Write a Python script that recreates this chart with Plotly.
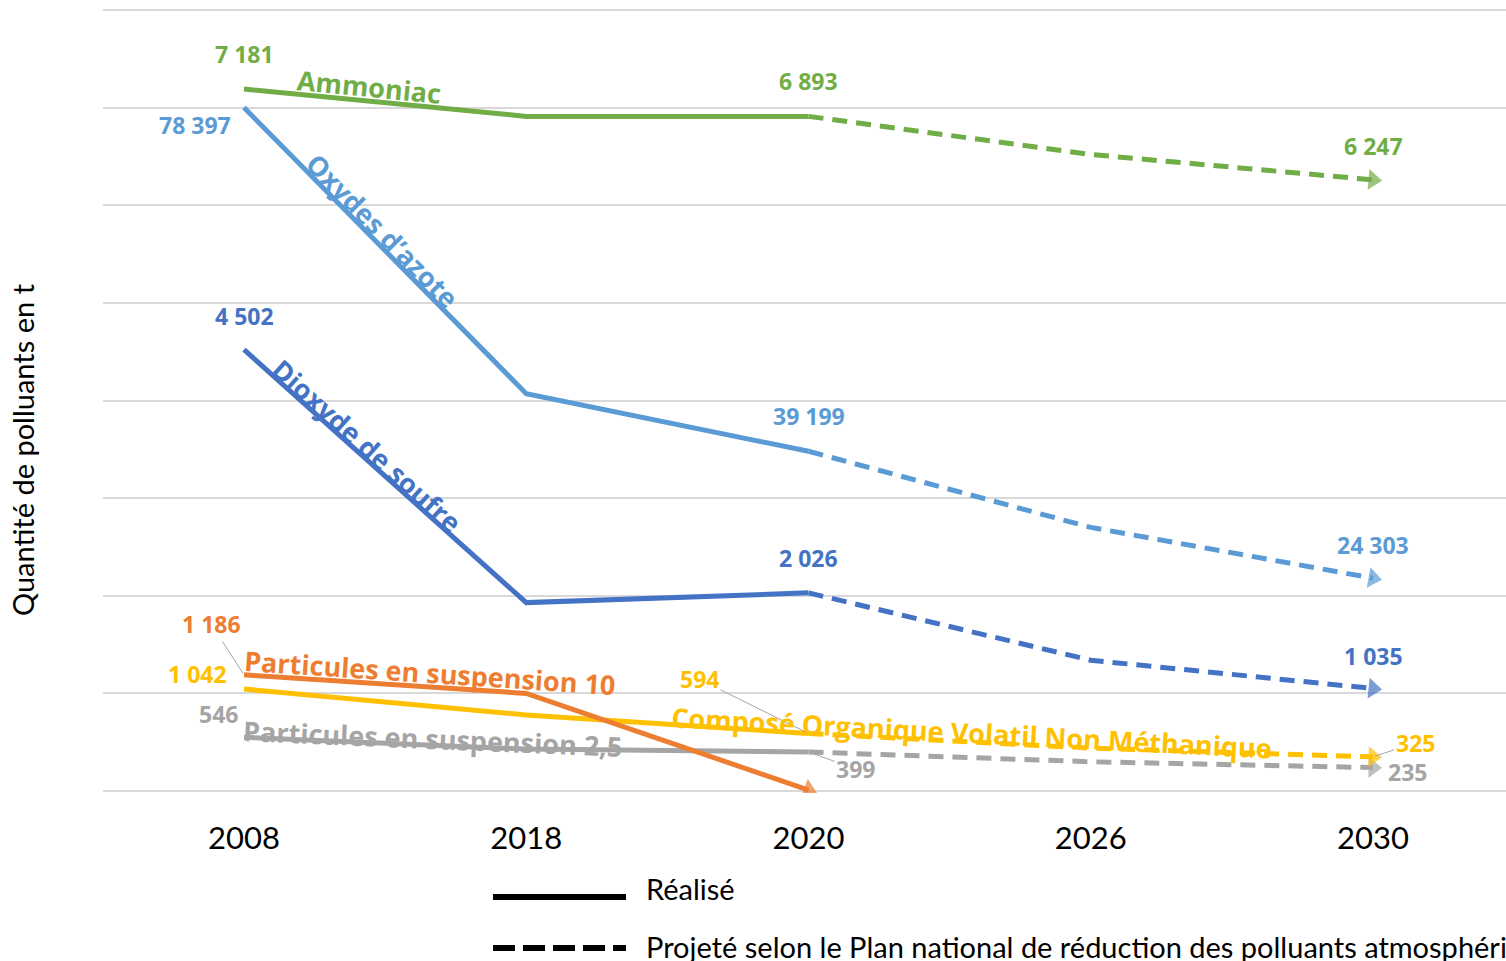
import math
import plotly.graph_objects as go

# ---------------- data ----------------
years = ["2008", "2018", "2020", "2026", "2030"]

# plotted positions (chart units; each pollutant is drawn on its own schematic scale)
ammoniac = [7.19, 6.91, 6.91, 6.52, 6.26]
oxydes_azote = [7.00, 4.07, 3.48, 2.70, 2.18]
dioxyde_soufre = [4.52, 1.93, 2.03, 1.34, 1.05]
particules_10 = [1.19, 1.00, 0.01]
covnm = [1.045, 0.78, 0.59, 0.44, 0.35]
particules_25 = [0.55, 0.43, 0.40, 0.30, 0.24]

# displayed values (t) at 2008, 2020, 2030
ammoniac_values = ["7 181", "6 893", "6 247"]
oxydes_azote_values = ["78 397", "39 199", "24 303"]
dioxyde_soufre_values = ["4 502", "2 026", "1 035"]
particules_10_values = ["1 186"]
covnm_values = ["1 042", "594", "325"]
particules_25_values = ["546", "399", "235"]

series_names = ["Ammoniac", "Oxydes d’azote", "Dioxyde de soufre", "Particules en suspension 10",
                "Composé Organique Volatil Non Méthanique", "Particules en suspension 2,5"]
legend_labels = ["Réalisé", "Projeté selon le Plan national de réduction des polluants atmosphériques"]
y_title = "Quantité de polluants en t"

# ---------------- style ----------------
GREEN, LBLUE, BLUE = "#70AD47", "#5B9BD5", "#4472C4"
ORANGE, YELLOW, GRAY = "#ED7D31", "#FFC000", "#A5A5A5"
FONT = "Lato"
BFONT = "Open Sans"
W, H = 1506, 961
ML, MR, MT, MB = 103, 0, 8, 168
XR = [-0.4996, 4.471]
YR = [-0.02, 8.02]
SX = (W - ML - MR) / (XR[1] - XR[0])
SY = (H - MT - MB) / (YR[1] - YR[0])
LW = 5
DASH = "15px,9px"
ARROW = 18

fig = go.Figure()


def add_series(vals, color, projected=True):
    xs = list(range(len(vals)))
    n_real = 3
    solid_x, solid_y = xs[:n_real], vals[:n_real]
    if projected:
        fig.add_trace(go.Scatter(x=solid_x, y=solid_y, mode="lines",
                                 line=dict(color=color, width=LW), hoverinfo="skip"))
        fig.add_trace(go.Scatter(x=xs[n_real - 1:], y=vals[n_real - 1:], mode="lines+markers",
                                 line=dict(color=color, width=LW, dash=DASH),
                                 marker=dict(symbol="triangle-up", angleref="previous",
                                             size=[0] * (len(vals) - n_real) + [ARROW],
                                             color=color, line=dict(width=0)),
                                 hoverinfo="skip"))
    else:
        fig.add_trace(go.Scatter(x=solid_x, y=solid_y, mode="lines+markers",
                                 line=dict(color=color, width=LW),
                                 marker=dict(symbol="triangle-up", angleref="previous",
                                             size=[0] * (n_real - 1) + [ARROW],
                                             color=color, line=dict(width=0)),
                                 hoverinfo="skip"))


add_series(ammoniac, GREEN)
add_series(oxydes_azote, LBLUE)
add_series(dioxyde_soufre, BLUE)
add_series(particules_25, GRAY)
add_series(covnm, YELLOW)
add_series(particules_10, ORANGE, projected=False)

annotations = []


def value_label(vals, idx, text, color, xs=0, ys=0, leader=None):
    a = dict(x=idx, y=vals[idx], text="<b>%s</b>" % text, xref="x", yref="y",
             font=dict(family=BFONT, size=23, color=color),
             xanchor="center", yanchor="middle")
    if leader:
        a.update(showarrow=True, ax=leader[0], ay=leader[1], arrowhead=0,
                 arrowwidth=1, arrowcolor="#A6A6A6", standoff=2)
    else:
        a.update(showarrow=False, xshift=xs, yshift=ys)
    annotations.append(a)


value_label(ammoniac, 0, ammoniac_values[0], GREEN, ys=35)
value_label(ammoniac, 2, ammoniac_values[1], GREEN, ys=35)
value_label(ammoniac, 4, ammoniac_values[2], GREEN, ys=34)
value_label(oxydes_azote, 0, oxydes_azote_values[0], LBLUE, xs=-49, ys=-17)
value_label(oxydes_azote, 2, oxydes_azote_values[1], LBLUE, ys=35)
value_label(oxydes_azote, 4, oxydes_azote_values[2], LBLUE, ys=33)
value_label(dioxyde_soufre, 0, dioxyde_soufre_values[0], BLUE, ys=34)
value_label(dioxyde_soufre, 2, dioxyde_soufre_values[1], BLUE, ys=35)
value_label(dioxyde_soufre, 4, dioxyde_soufre_values[2], BLUE, ys=33)
value_label(particules_10, 0, particules_10_values[0], ORANGE, leader=(-33, -51))
value_label(covnm, 0, covnm_values[0], YELLOW, xs=-47, ys=15)
value_label(covnm, 2, covnm_values[1], YELLOW, leader=(-109, -54))
value_label(covnm, 4, covnm_values[2], YELLOW, leader=(42, -14))
value_label(particules_25, 0, particules_25_values[0], GRAY, xs=-26, ys=23)
value_label(particules_25, 2, particules_25_values[1], GRAY, leader=(47, 17))
value_label(particules_25, 4, particules_25_values[2], GRAY, xs=34, ys=-4)


def name_label(vals, seg, t, d, text, color, size=27):
    x0, x1 = seg, seg + 1
    y0, y1 = vals[seg], vals[seg + 1]
    dxp = SX * (x1 - x0)
    dyp = SY * (y1 - y0)
    ang = math.degrees(math.atan2(-dyp, dxp))
    L = math.hypot(dxp, dyp)
    nx, ny = -dyp / L, dxp / L
    annotations.append(dict(x=x0 + t * (x1 - x0), y=y0 + t * (y1 - y0), xref="x", yref="y",
                            text="<b>%s</b>" % text, showarrow=False, textangle=ang,
                            xshift=d * nx, yshift=d * ny, xanchor="center", yanchor="middle",
                            font=dict(family=BFONT, size=size, color=color)))


name_label(ammoniac, 0, 0.44, 15, series_names[0], GREEN)
name_label(oxydes_azote, 0, 0.46, 12, series_names[1], LBLUE)
name_label(dioxyde_soufre, 0, 0.41, 11, series_names[2], BLUE)
name_label(particules_10, 0, 0.655, 15, series_names[3], ORANGE)
name_label(covnm, 2, 0.576, 9, series_names[4], YELLOW)
name_label(particules_25, 0, 0.67, 7, series_names[5], GRAY)

# y axis title
annotations.append(dict(x=-0.0577, y=(793 - 450) / 785, xref="paper", yref="paper",
                        text=y_title, textangle=-90, showarrow=False,
                        xanchor="center", yanchor="middle",
                        font=dict(family=FONT, size=29, color="#000000")))


# legend (drawn as shapes + text)
def px_x(p):
    return (p - ML) / (W - ML - MR)


def px_y(p):
    return (H - MB - p) / (H - MT - MB)


shapes = [
    dict(type="line", xref="paper", yref="paper", x0=px_x(493), x1=px_x(626),
         y0=px_y(897), y1=px_y(897), line=dict(color="#000000", width=6)),
    dict(type="line", xref="paper", yref="paper", x0=px_x(493), x1=px_x(626),
         y0=px_y(948), y1=px_y(948), line=dict(color="#000000", width=6, dash="22px,8px")),
]
annotations.append(dict(x=px_x(644), y=px_y(888), xref="paper", yref="paper", text=legend_labels[0],
                        showarrow=False, xanchor="left", yanchor="middle",
                        font=dict(family=FONT, size=29, color="#000000")))
annotations.append(dict(x=px_x(644), y=px_y(946), xref="paper", yref="paper", text=legend_labels[1],
                        showarrow=False, xanchor="left", yanchor="middle",
                        font=dict(family=FONT, size=29, color="#000000")))

fig.update_layout(
    width=W, height=H,
    margin=dict(l=ML, r=MR, t=MT, b=MB, pad=0),
    paper_bgcolor="white", plot_bgcolor="white",
    showlegend=False,
    annotations=annotations,
    shapes=shapes,
    xaxis=dict(range=XR, tickmode="array", tickvals=list(range(len(years))), ticktext=years,
               showgrid=False, zeroline=False, showline=False, ticks="",
               tickfont=dict(family=FONT, size=31, color="#000000"), ticklabelstandoff=24),
    yaxis=dict(range=YR, tickmode="array", tickvals=list(range(9)), showticklabels=False,
               showgrid=True, gridcolor="#D9D9D9", gridwidth=2, zeroline=False, showline=False),
)

fig.write_html("out.html")
